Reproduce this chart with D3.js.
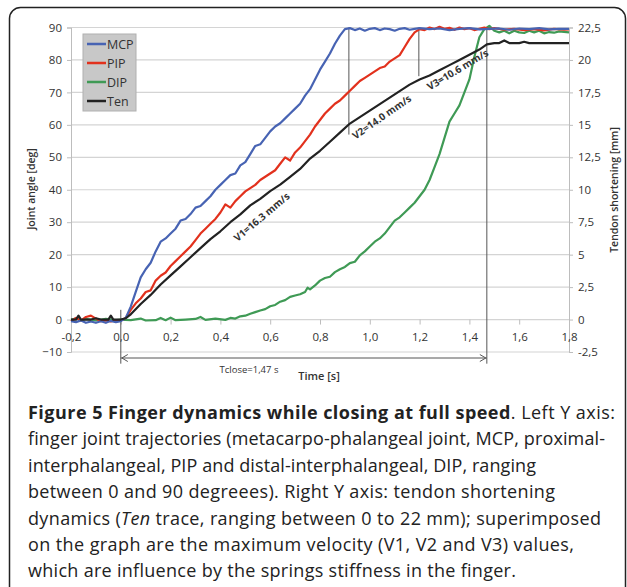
<!DOCTYPE html>
<html>
<head>
<meta charset="utf-8">
<script src="https://cdn.jsdelivr.net/npm/d3@7"></script>
<style>
  body { margin: 0; background: #fff; }
  svg { display: block; font-family: "Open Sans", sans-serif; }
</style>
</head>
<body>
<script>
// Joint angles [deg], as [time s, value]
const mcp = [[-0.2,-0.5],[-0.18,-0.8],[-0.16,-0.3],[-0.14,-1],[-0.12,-0.6],[-0.1,-1],[-0.08,-0.5],[-0.06,-1],[-0.04,-0.4],[-0.02,-0.8],[0,-0.5],[0.02,0.5],[0.04,4],[0.06,8.5],[0.08,13],[0.1,15.5],[0.12,17.5],[0.14,21],[0.16,24],[0.18,25],[0.2,26.5],[0.22,28],[0.24,30.5],[0.26,31],[0.28,32.5],[0.3,34.5],[0.32,35],[0.34,36.5],[0.36,38],[0.38,40],[0.4,41.5],[0.42,43],[0.44,44.5],[0.46,45],[0.48,47.5],[0.5,48.5],[0.52,51],[0.54,53.5],[0.56,54],[0.58,56],[0.6,58],[0.62,59.5],[0.64,60.5],[0.66,62],[0.68,63.5],[0.7,65],[0.72,66.5],[0.74,69],[0.76,71],[0.78,74],[0.8,77],[0.82,79.5],[0.84,82],[0.86,85],[0.88,87.5],[0.9,89.5],[0.92,89.8],[0.94,89.2],[0.96,89.7],[0.98,89],[1.0,89.6],[1.02,89.8],[1.04,89.2],[1.06,89.7],[1.08,89.5],[1.1,89],[1.12,89.6],[1.14,89.8],[1.16,89.3],[1.18,89.6],[1.2,89.8],[1.24,89.5],[1.28,89.7],[1.32,89.2],[1.36,89.6],[1.4,89.8],[1.44,89.4],[1.48,89.6],[1.52,89.7],[1.56,89.3],[1.6,89.7],[1.64,89.5],[1.68,89.8],[1.72,89.4],[1.76,89.6],[1.8,89.6]];

const pip = [[-0.2,-0.5],[-0.18,0.5],[-0.16,-0.3],[-0.14,0.8],[-0.12,1.2],[-0.1,0.3],[-0.08,-0.5],[-0.06,-0.3],[-0.04,-0.6],[-0.02,-0.2],[0,-0.3],[0.02,0.5],[0.04,3],[0.06,5],[0.08,6.5],[0.1,8.5],[0.12,9],[0.14,12],[0.16,13.5],[0.18,14.5],[0.2,16.5],[0.22,18],[0.24,19.5],[0.26,21],[0.28,22.5],[0.3,24.5],[0.32,26.5],[0.34,28],[0.36,29.5],[0.38,31],[0.4,33],[0.42,35.5],[0.44,34.5],[0.46,36.5],[0.48,38],[0.5,39.5],[0.52,40.5],[0.54,41.5],[0.56,43],[0.58,44],[0.6,45],[0.62,46],[0.64,48],[0.66,50],[0.68,49],[0.7,51.5],[0.72,53],[0.74,55],[0.76,57],[0.78,59.5],[0.8,61.5],[0.82,63.5],[0.84,65],[0.86,66.5],[0.88,67.5],[0.9,69],[0.92,70.5],[0.94,72],[0.96,73.5],[0.98,74.5],[1.0,75.5],[1.02,76.5],[1.04,77.5],[1.06,78],[1.08,79.5],[1.1,80.5],[1.12,81.5],[1.14,84],[1.16,86.5],[1.18,88.5],[1.2,89.5],[1.22,89.2],[1.24,90],[1.26,89.5],[1.28,90.2],[1.3,89.6],[1.32,89.9],[1.34,89.3],[1.36,90],[1.38,89.5],[1.4,89.8],[1.42,89.2],[1.44,89.6],[1.46,90],[1.48,89.5],[1.5,89.8],[1.54,89.3],[1.58,89.6],[1.62,89.2],[1.66,89.5],[1.7,89.1],[1.74,89.6],[1.78,89.3],[1.8,89.4]];

const dip = [[-0.2,0],[-0.18,0.3],[-0.16,-0.3],[-0.14,0.2],[-0.1,-0.3],[-0.06,0.2],[-0.02,-0.2],[0,0],[0.04,-0.2],[0.08,0.3],[0.1,-0.3],[0.14,-0.2],[0.16,0.5],[0.18,-0.2],[0.2,0.6],[0.22,-0.2],[0.26,0],[0.3,0.2],[0.32,0.8],[0.34,-0.1],[0.38,0.3],[0.42,-0.1],[0.44,0.5],[0.46,0.3],[0.48,1],[0.5,1.2],[0.52,1.8],[0.54,2.3],[0.56,2.8],[0.58,3.2],[0.6,4.1],[0.62,4.5],[0.64,5.5],[0.66,6],[0.68,7],[0.7,7.4],[0.72,7.8],[0.74,8.5],[0.75,9.8],[0.76,9.3],[0.78,10.5],[0.8,12],[0.82,12.8],[0.84,13.2],[0.86,14.6],[0.88,15.5],[0.9,16.2],[0.92,17.4],[0.94,17.8],[0.96,19.8],[0.98,21],[1.0,22.5],[1.02,24],[1.04,25],[1.06,26.5],[1.08,28.5],[1.1,30.5],[1.12,31.5],[1.14,33],[1.16,34.5],[1.18,36],[1.2,38],[1.22,40],[1.24,43],[1.26,47],[1.28,51],[1.3,56],[1.32,61],[1.34,63.5],[1.36,66],[1.38,70],[1.4,74],[1.42,81],[1.44,87],[1.46,89.5],[1.48,90.5],[1.5,89],[1.52,88.5],[1.54,89],[1.56,88.2],[1.58,89],[1.6,88.5],[1.62,88.3],[1.64,89],[1.66,88.5],[1.68,89],[1.7,88.2],[1.72,88.6],[1.74,88.4],[1.76,88.8],[1.8,88.5]];

// Tendon shortening [mm] (right axis)
const ten = [[-0.2,0],[-0.18,0],[-0.17,0.3],[-0.16,0],[-0.12,0],[-0.1,0.1],[-0.08,0],[-0.05,0],[-0.04,0.3],[-0.03,0],[0,0],[0.02,0.1],[0.04,0.4],[0.08,1.2],[0.12,1.9],[0.16,2.7],[0.2,3.4],[0.24,4.1],[0.28,4.8],[0.32,5.5],[0.36,6.2],[0.4,6.8],[0.44,7.5],[0.48,8.1],[0.52,8.8],[0.56,9.3],[0.6,9.9],[0.64,10.4],[0.68,11],[0.72,11.6],[0.76,12.4],[0.8,13],[0.84,13.7],[0.88,14.4],[0.92,15.1],[0.96,15.6],[1.0,16.1],[1.04,16.6],[1.08,17.1],[1.12,17.6],[1.16,18.1],[1.2,18.5],[1.24,18.8],[1.28,19.2],[1.32,19.6],[1.36,20],[1.4,20.4],[1.44,20.8],[1.47,21.2],[1.5,21.3],[1.52,21.3],[1.54,21.5],[1.56,21.3],[1.6,21.3],[1.62,21.4],[1.64,21.3],[1.7,21.3],[1.8,21.3]];

const seriesNames = ["MCP", "PIP", "DIP", "Ten"];
const seriesColors = ["#4763b3", "#e2311d", "#3f9a55", "#222222"];

const xTicks = [-0.2, 0, 0.2, 0.4, 0.6, 0.8, 1.0, 1.2, 1.4, 1.6, 1.8];
const xTickLabels = ["-0,2", "0,0", "0,2", "0,4", "0,6", "0,8", "1,0", "1,2", "1,4", "1,6", "1,8"];
const leftTicks = [-10, 0, 10, 20, 30, 40, 50, 60, 70, 80, 90];
const rightTicks = [-2.5, 0, 2.5, 5, 7.5, 10, 12.5, 15, 17.5, 20, 22.5];
const rightTickLabels = ["-2,5", "0", "2,5", "5", "7,5", "10", "12,5", "15", "17,5", "20", "22,5"];

// Velocity annotations: [time, deg, angle, text]
const velocityLabels = [
  [0.566, 31.6, -40, "V1=16.3 mm/s"],
  [1.048, 62.4, -35, "V2=14.0 mm/s"],
  [1.353, 77.0, -31, "V3=10.6 mm/s"],
];
// marker lines: [time, from deg, to deg]
const markerLines = [[0, 3, -13.6], [0.916, 90, 57], [1.197, 90, 75], [1.47, 90, -13.6]];
const tclose = 1.47;

// caption lines; null marks the line with the italic "Ten"
const captionLines = [
  "finger joint trajectories (metacarpo-phalangeal joint, MCP, proximal-",
  "interphalangeal, PIP and distal-interphalangeal, DIP, ranging",
  "between 0 and 90 degreees). Right Y axis: tendon shortening",
  null,
  "on the graph are the maximum velocity (V1, V2 and V3) values,",
  "which are influence by the springs stiffness in the finger.",
];
// right end of each caption line in the reference (first line included)
const captionEnds = [615, 605, 536, 555, 601, 574, 516];

const W = 627, H = 587;
const svg = d3.select("body").append("svg").attr("width", W).attr("height", H);

// outer frame
svg.append("rect")
  .attr("x", 9.5).attr("y", 7.5)
  .attr("width", 616).attr("height", 620)
  .attr("rx", 11)
  .attr("fill", "none")
  .attr("stroke", "#222")
  .attr("stroke-width", 1.5);

const x = d3.scaleLinear().domain([-0.2, 1.8]).range([71, 569]);
const yL = d3.scaleLinear().domain([-10, 90]).range([352, 27.5]);
const yR = d3.scaleLinear().domain([-2.5, 22.5]).range([352, 27.5]);

// gridlines
svg.append("g")
  .selectAll("line")
  .data(leftTicks)
  .enter()
  .append("line")
  .attr("x1", x(-0.2)).attr("x2", x(1.8))
  .attr("y1", (d) => yL(d)).attr("y2", (d) => yL(d))
  .attr("stroke", "#d4d4d4")
  .attr("stroke-width", 1.2);

// left axis
const leftAxis = svg.append("g")
  .attr("transform", `translate(${x(-0.2)},0)`)
  .call(d3.axisLeft(yL).tickValues(leftTicks).tickSize(4).tickPadding(5));
// right axis
const rightAxis = svg.append("g")
  .attr("transform", `translate(${x(1.8)},0)`)
  .call(d3.axisRight(yR).tickValues(rightTicks).tickSize(4).tickPadding(5)
    .tickFormat((d, i) => rightTickLabels[i]));
// bottom axis on the zero line
const bottomAxis = svg.append("g")
  .attr("transform", `translate(0,${yL(0)})`)
  .call(d3.axisBottom(x).tickValues(xTicks).tickSize(5).tickPadding(8)
    .tickFormat((d, i) => xTickLabels[i]));

[leftAxis, rightAxis, bottomAxis].forEach((g) => {
  g.select(".domain").attr("stroke", "#bdbdbd");
  g.selectAll(".tick line").attr("stroke", "#bdbdbd");
  g.selectAll(".tick text")
    .attr("fill", "#333")
    .style("font-size", "11.5px")
    .style("font-family", "'Open Sans', sans-serif");
});
bottomAxis.select(".domain").remove();

// axis titles
svg.append("text")
  .attr("transform", `translate(35,189) rotate(-90)`)
  .attr("text-anchor", "middle")
  .style("font-size", "10.5px")
  .style("font-weight", 600)
  .attr("fill", "#333")
  .text("Joint angle [deg]");

svg.append("text")
  .attr("transform", `translate(618,190) rotate(-90)`)
  .attr("text-anchor", "middle")
  .style("font-size", "10.5px")
  .style("font-weight", 600)
  .attr("fill", "#333")
  .text("Tendon shortening [mm]");

svg.append("text")
  .attr("x", 319).attr("y", 380)
  .attr("text-anchor", "middle")
  .style("font-size", "11px")
  .style("font-weight", 600)
  .attr("fill", "#333")
  .text("Time [s]");

// marker lines
svg.append("g")
  .selectAll("line")
  .data(markerLines)
  .enter()
  .append("line")
  .attr("x1", (d) => x(d[0])).attr("x2", (d) => x(d[0]))
  .attr("y1", (d) => yL(d[1])).attr("y2", (d) => yL(d[2]))
  .attr("stroke", "#555")
  .attr("stroke-width", 1);

// Tclose arrow
const arrowY = 358;
svg.append("line")
  .attr("x1", x(0)).attr("x2", x(tclose))
  .attr("y1", arrowY).attr("y2", arrowY)
  .attr("stroke", "#555").attr("stroke-width", 1);
svg.append("path")
  .attr("d", `M${x(0) + 7},${arrowY - 3.5}L${x(0) + 1},${arrowY}L${x(0) + 7},${arrowY + 3.5}`)
  .attr("fill", "none").attr("stroke", "#555");
svg.append("path")
  .attr("d", `M${x(tclose) - 7},${arrowY - 3.5}L${x(tclose) - 1},${arrowY}L${x(tclose) - 7},${arrowY + 3.5}`)
  .attr("fill", "none").attr("stroke", "#555");
svg.append("text")
  .attr("x", 249).attr("y", 372.5)
  .attr("text-anchor", "middle")
  .style("font-size", "9.5px")
  .attr("fill", "#333")
  .text("Tclose=1,47 s");

// lines
const lineL = d3.line().x((d) => x(d[0])).y((d) => yL(d[1]));
const lineR = d3.line().x((d) => x(d[0])).y((d) => yR(d[1]));
const plotted = [
  [dip, lineL, seriesColors[2]],
  [pip, lineL, seriesColors[1]],
  [mcp, lineL, seriesColors[0]],
  [ten, lineR, seriesColors[3]],
];
plotted.forEach(([data, gen, color]) => {
  svg.append("path")
    .datum(data)
    .attr("d", gen)
    .attr("fill", "none")
    .attr("stroke", color)
    .attr("stroke-width", 2.2)
    .attr("stroke-linejoin", "round");
});

// velocity labels
svg.append("g")
  .selectAll("text")
  .data(velocityLabels)
  .enter()
  .append("text")
  .attr("transform", (d) => `translate(${x(d[0])},${yL(d[1])}) rotate(${d[2]})`)
  .attr("text-anchor", "middle")
  .attr("dy", "0.35em")
  .style("font-size", "10px")
  .style("font-weight", 700)
  .attr("fill", "#333")
  .text((d) => d[3]);

// legend
const legend = svg.append("g").attr("transform", "translate(83,34)");
legend.append("rect")
  .attr("width", 53).attr("height", 77)
  .attr("fill", "#c8c8c8")
  .attr("stroke", "#b0b0b0");
seriesNames.forEach((name, i) => {
  legend.append("line")
    .attr("x1", 4).attr("x2", 23)
    .attr("y1", 10 + i * 19).attr("y2", 10 + i * 19)
    .attr("stroke", seriesColors[i])
    .attr("stroke-width", 2.5);
  legend.append("text")
    .attr("x", 24).attr("y", 10 + i * 19)
    .attr("dy", "0.36em")
    .style("font-size", "12.5px")
    .attr("fill", "#333")
    .text(name);
});

// caption
const capX = 28;
const capLines = [];
const first = svg.append("text")
  .attr("x", capX).attr("y", 419)
  .style("font-size", "18px")
  .attr("fill", "#222");
first.append("tspan")
  .style("font-weight", 700)
  .text("Figure 5 Finger dynamics while closing at full speed");
first.append("tspan").text(". Left Y axis:");
capLines.push(first);

captionLines.forEach((line, i) => {
  const t = svg.append("text")
    .attr("x", capX).attr("y", 419 + (i + 1) * 26.4)
    .style("font-size", "18px")
    .attr("fill", "#222");
  if (line === null) {
    t.append("tspan").text("dynamics (");
    t.append("tspan").style("font-style", "italic").text("Ten");
    t.append("tspan").text(" trace, ranging between 0 to 22 mm); superimposed");
  } else {
    t.text(line);
  }
  capLines.push(t);
});

// stretch or squeeze letter spacing so each line ends where it does in the figure
capLines.forEach((t, i) => {
  const node = t.node();
  const natural = node.getComputedTextLength();
  const n = node.textContent.length;
  const target = captionEnds[i] - capX;
  t.style("letter-spacing", `${(target - natural) / (n - 1)}px`);
});
</script>
</body>
</html>
